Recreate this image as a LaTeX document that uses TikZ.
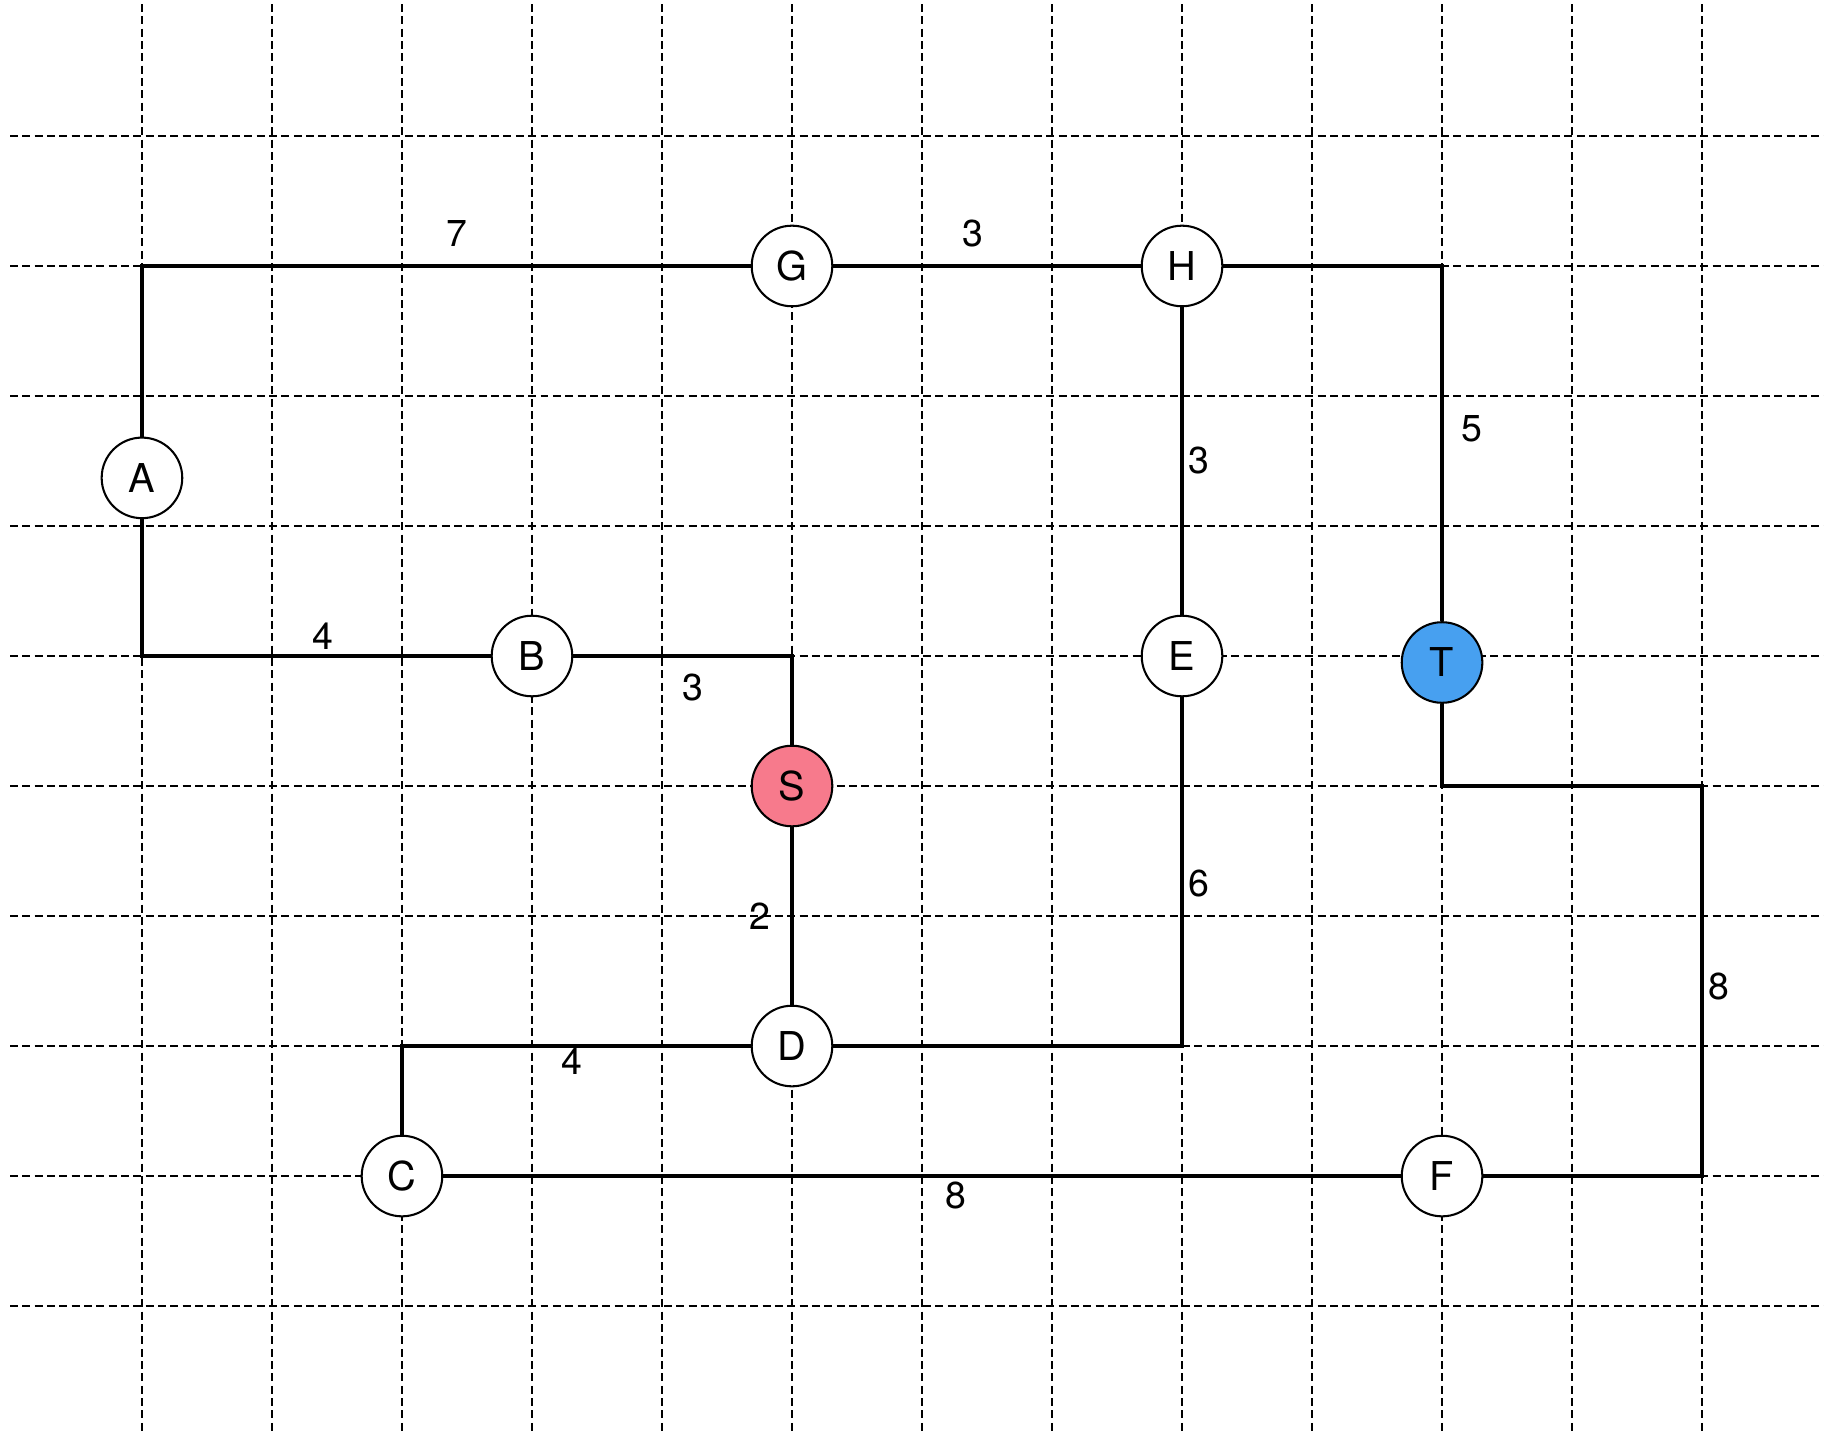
\documentclass[tikz,border=0pt]{standalone}
\usepackage{fontspec}
\setmainfont{TeX Gyre Heros}
\usetikzlibrary{positioning}
\definecolor{SourcePink}{RGB}{247,122,140}
\definecolor{SinkBlue}{RGB}{71,160,240}
\newcommand{\weight}[4]{%
  \node[weight] (#1) at (#2,#3) {#4};}

\begin{document}
\begin{tikzpicture}[
  vertex/.style={circle,draw,line width=0.45pt,fill=white,minimum size=0.62cm,
    inner sep=0pt,font=\fontsize{8.7}{10}\selectfont},
  weight/.style={inner sep=0pt,font=\fontsize{8.2}{10}\selectfont},
  edge/.style={line width=0.75pt},
  gridline/.style={line width=0.45pt,dash pattern=on 1.75pt off 0.95pt}]
  \useasboundingbox (-1.092,1.046) rectangle (12.938,-10.031);
  % background grid
  \foreach \i in {0,...,12}
    \draw[gridline] (\i,1.015) -- (\i,-9.977);
  \foreach \j in {0,...,9}
    \draw[gridline] (-1.015,-\j) -- (12.938,-\j);
  % vertices
  \node[vertex] (A) at (0,-2.63) {A};
  \node[vertex] (G) at (5,-1) {G};
  \node[vertex] (H) at (8,-1) {H};
  \node[vertex] (B) at (3,-4) {B};
  \node[vertex] (E) at (8,-4) {E};
  \node[vertex,fill=SinkBlue] (T) at (10,-4.05) {T};
  \node[vertex,fill=SourcePink] (S) at (5,-5) {S};
  \node[vertex] (D) at (5,-7) {D};
  \node[vertex] (C) at (2,-8) {C};
  \node[vertex] (F) at (10,-8) {F};
  % edges
  \coordinate (bend) at (12,-5);
  \draw[edge] (A) |- (G);
  \draw[edge] (G) -- (H);
  \draw[edge] (H) -| (T);
  \draw[edge] (H) -- (E);
  \draw[edge] (A) |- (B);
  \draw[edge] (B) -| (S);
  \draw[edge] (S) -- (D);
  \draw[edge] (D) -| (C);
  \draw[edge] (D) -| (E);
  \draw[edge] (T) |- (bend) |- (F);
  \draw[edge] (C) -- (F);
  % weights
  \weight{wAG}{2.42}{-0.75}{7}
  \weight{wGH}{6.39}{-0.75}{3}
  \weight{wHT}{10.23}{-2.25}{5}
  \weight{wHE}{8.13}{-2.5}{3}
  \weight{wAB}{1.39}{-3.85}{4}
  \weight{wBS}{4.24}{-4.24}{3}
  \weight{wSD}{4.75}{-6}{2}
  \weight{wDC}{3.31}{-7.12}{4}
  \weight{wDE}{8.13}{-5.75}{6}
  \weight{wTF}{12.13}{-6.54}{8}
  \weight{wCF}{6.26}{-8.15}{8}
\end{tikzpicture}
\end{document}
